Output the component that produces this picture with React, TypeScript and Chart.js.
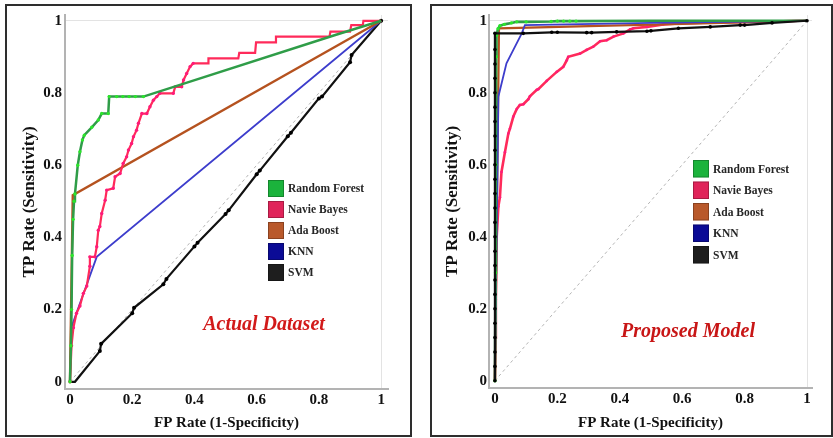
import React, { useEffect, useRef } from 'react';
import { Chart, registerables } from 'chart.js';

Chart.register(...registerables);

type Pt = [number, number];

// ---------- shared labels ----------
const tickValues = [0, 0.2, 0.4, 0.6, 0.8, 1];
const tickLabels = ['0', '0.2', '0.4', '0.6', '0.8', '1'];
const seriesNames = ['Random Forest', 'Navie Bayes', 'Ada Boost', 'KNN', 'SVM'];
const xTitle = 'FP Rate (1-Specificity)';
const yTitle = 'TP Rate (Sensitivity)';
const leftNote = 'Actual Dataset';
const rightNote = 'Proposed Model';

// ---------- Actual Dataset (FP rate, TP rate) ----------
const actualRandomForest: Pt[] = [
  [0, 0], [0.003, 0.1], [0.005, 0.2], [0.007, 0.35], [0.01, 0.45], [0.013, 0.5],
  [0.016, 0.52], [0.025, 0.6], [0.032, 0.637], [0.04, 0.67], [0.046, 0.683],
  [0.07, 0.705], [0.091, 0.725], [0.102, 0.743], [0.123, 0.743], [0.126, 0.79],
  [0.15, 0.79], [0.17, 0.79], [0.19, 0.79], [0.21, 0.79], [0.236, 0.79],
  [0.85, 0.96], [1, 1],
];
const actualNaiveBayes: Pt[] = [
  [0, 0], [0.005, 0.1], [0.011, 0.15], [0.021, 0.19], [0.032, 0.21], [0.043, 0.245],
  [0.054, 0.265], [0.064, 0.32], [0.064, 0.346], [0.08, 0.346], [0.086, 0.374],
  [0.091, 0.42], [0.096, 0.43], [0.102, 0.466], [0.113, 0.503], [0.118, 0.531],
  [0.139, 0.536], [0.145, 0.568], [0.161, 0.577], [0.171, 0.605], [0.182, 0.623],
  [0.188, 0.642], [0.198, 0.66], [0.204, 0.679], [0.214, 0.697], [0.22, 0.716],
  [0.231, 0.743], [0.247, 0.743], [0.257, 0.762], [0.268, 0.78], [0.279, 0.79],
  [0.289, 0.799], [0.332, 0.799], [0.338, 0.817], [0.359, 0.817], [0.365, 0.836],
  [0.375, 0.854], [0.386, 0.873], [0.396, 0.882], [0.445, 0.882], [0.445, 0.896],
  [0.541, 0.896], [0.544, 0.911], [0.595, 0.911], [0.598, 0.94], [0.659, 0.94],
  [0.662, 0.956], [0.834, 0.956], [0.837, 0.97], [0.9, 0.97], [0.904, 0.988],
  [0.941, 0.988], [0.943, 1], [1, 1],
];
const actualAdaBoost: Pt[] = [[0, 0], [0.009, 0.517], [1, 1]];
const actualKnn: Pt[] = [[0, 0], [0.004, 0.15], [0.086, 0.346], [1, 1]];
const actualSvm: Pt[] = [
  [0, 0], [0.016, 0], [0.096, 0.085], [0.1, 0.105], [0.2, 0.19], [0.206, 0.205],
  [0.3, 0.27], [0.31, 0.285], [0.4, 0.375], [0.41, 0.385], [0.5, 0.465],
  [0.51, 0.475], [0.6, 0.575], [0.61, 0.585], [0.7, 0.68], [0.71, 0.69],
  [0.8, 0.785], [0.81, 0.79], [0.9, 0.885], [0.905, 0.905], [1, 1],
];

// ---------- Proposed Model (FP rate, TP rate) ----------
const proposedRandomForest: Pt[] = [
  [0, 0], [0.002, 0.3], [0.003, 0.6], [0.004, 0.9], [0.005, 0.96], [0.01, 0.978],
  [0.016, 0.986], [0.03, 0.99], [0.053, 0.994], [0.07, 0.997], [0.1, 0.997],
  [0.18, 0.998], [0.2, 0.999], [0.22, 0.999], [0.24, 0.999], [0.26, 0.999],
  [0.5, 1], [1, 1],
];
const proposedNaiveBayes: Pt[] = [
  [0, 0], [0.002, 0.12], [0.003, 0.225], [0.005, 0.39], [0.011, 0.484], [0.016, 0.51],
  [0.021, 0.58], [0.032, 0.635], [0.043, 0.687], [0.048, 0.7], [0.059, 0.734],
  [0.07, 0.755], [0.08, 0.766], [0.091, 0.768], [0.107, 0.782], [0.112, 0.79],
  [0.134, 0.808], [0.139, 0.81], [0.166, 0.833], [0.198, 0.858], [0.219, 0.872],
  [0.23, 0.89], [0.235, 0.9], [0.273, 0.909], [0.294, 0.919], [0.315, 0.928],
  [0.337, 0.943], [0.358, 0.946], [0.38, 0.956], [0.412, 0.965], [0.433, 0.976],
  [0.444, 0.979], [0.487, 0.983], [0.54, 0.99], [0.6, 0.993], [0.7, 0.995],
  [0.8, 0.997], [0.9, 0.998], [0.97, 1], [1, 1],
];
const proposedAdaBoost: Pt[] = [[0, 0], [0.013, 0.979], [0.3, 0.985], [0.6, 0.991], [1, 1]];
const proposedKnn: Pt[] = [
  [0, 0], [0.011, 0.789], [0.037, 0.882], [0.059, 0.919], [0.086, 0.965],
  [0.096, 0.988], [0.5, 0.994], [1, 1],
];
const proposedSvm: Pt[] = [
  [0, 0], [0, 0.04], [0, 0.08], [0, 0.12], [0, 0.16], [0, 0.2], [0, 0.24], [0, 0.28],
  [0, 0.32], [0, 0.36], [0, 0.4], [0, 0.44], [0, 0.48], [0, 0.52], [0, 0.56], [0, 0.6],
  [0, 0.64], [0, 0.68], [0, 0.72], [0, 0.76], [0, 0.8], [0, 0.84], [0, 0.88], [0, 0.92],
  [0, 0.965], [0.091, 0.965], [0.182, 0.968], [0.2, 0.968], [0.294, 0.967],
  [0.31, 0.967], [0.39, 0.969], [0.487, 0.971], [0.5, 0.972], [0.588, 0.979],
  [0.69, 0.983], [0.786, 0.988], [0.8, 0.988], [0.888, 0.994], [1, 1],
];

const chanceLine: Pt[] = [[0, 0], [1, 1]];

// ---------- styles ----------
const SERIF = '"Liberation Serif", "Times New Roman", serif';
const legendColors = ['#1bb33c', '#e0245a', '#b9592b', '#0b0b96', '#1e1e1e'];
const lineColors = ['#2f9d48', '#ff2a5a', '#b5521f', '#3d3dcc', '#111111'];
const markerColors = ['#2be62b', '#ff1a7a', '#b5521f', '#3d3dcc', '#000000'];

const toXY = (pts: Pt[]) => pts.map(([x, y]) => ({ x, y }));

const overlayPlugin = {
  id: 'overlay',
  afterDatasetsDraw(chart: any, _args: any, opts: any) {
    const ctx = chart.ctx as CanvasRenderingContext2D;
    ctx.save();
    seriesNames.forEach((name, i) => {
      const top = opts.y + i * opts.step;
      ctx.fillStyle = legendColors[i];
      ctx.fillRect(opts.x, top, opts.w, opts.h);
      ctx.strokeStyle = 'rgba(0,0,0,0.25)';
      ctx.lineWidth = 1;
      ctx.strokeRect(opts.x + 0.5, top + 0.5, opts.w - 1, opts.h - 1);
      ctx.fillStyle = '#262626';
      ctx.font = `bold 11.5px ${SERIF}`;
      ctx.textAlign = 'left';
      ctx.textBaseline = 'middle';
      ctx.fillText(name, opts.x + opts.w + 4, top + opts.h / 2 + 1);
    });
    ctx.font = `italic bold 20px ${SERIF}`;
    ctx.fillStyle = opts.noteColor;
    ctx.textAlign = 'center';
    ctx.textBaseline = 'middle';
    ctx.fillText(opts.note, opts.noteX, opts.noteY);
    ctx.restore();
  },
};

interface PanelCfg {
  series: Pt[][];
  radius: ((x: number) => number)[];
  widths: number[];
  order: number[];
  xMin: number; xMax: number; yMin: number; yMax: number;
  padTop: number; padRight: number; padBottom: number;
  yWidth: number; xHeight: number;
  yTickPad: number; xTickPad: number; yTitlePad: number;
  legend: { x: number; y: number; step: number; w: number; h: number };
  note: string; noteX: number; noteY: number; noteColor: string;
}

function buildChart(canvas: HTMLCanvasElement, cfg: PanelCfg) {
  const datasets: any[] = cfg.series.map((pts, i) => ({
    label: seriesNames[i],
    data: toXY(pts),
    borderColor: lineColors[i],
    borderWidth: cfg.widths[i],
    pointRadius: (c: any) => (c.raw ? cfg.radius[i](c.raw.x) : 0),
    pointBackgroundColor: markerColors[i],
    pointBorderWidth: 0,
    pointHoverRadius: 0,
    tension: 0,
    fill: false,
    order: cfg.order[i],
  }));
  datasets.push({
    label: 'chance',
    data: toXY(chanceLine),
    borderColor: '#b4b4b4',
    borderWidth: 1,
    borderDash: [3, 3],
    pointRadius: 0,
    fill: false,
    order: 10,
  });

  const tickFont = { family: SERIF, size: 15, weight: 'bold' as const };
  const fmt = (v: any) => {
    const i = tickValues.indexOf(Number(v));
    return i >= 0 ? tickLabels[i] : '';
  };
  const gridColor = (c: any) => (c.tick && c.tick.value === 1 ? '#e3e3e3' : 'rgba(0,0,0,0)');

  return new Chart(canvas, {
    type: 'line',
    data: { datasets },
    plugins: [overlayPlugin as any],
    options: {
      animation: false,
      responsive: false,
      events: [],
      layout: { padding: { left: 0, top: cfg.padTop, right: cfg.padRight, bottom: cfg.padBottom } },
      plugins: {
        legend: { display: false },
        tooltip: { enabled: false },
        overlay: {
          ...cfg.legend,
          note: cfg.note, noteX: cfg.noteX, noteY: cfg.noteY, noteColor: cfg.noteColor,
        },
      } as any,
      scales: {
        x: {
          type: 'linear',
          min: cfg.xMin,
          max: cfg.xMax,
          afterBuildTicks: (s: any) => { s.ticks = tickValues.map((v) => ({ value: v })); },
          afterFit: (s: any) => { s.height = cfg.xHeight; },
          ticks: { callback: fmt, font: tickFont, color: '#111', padding: cfg.xTickPad, maxRotation: 0, autoSkip: false },
          grid: { drawTicks: false, color: gridColor, lineWidth: 1 },
          border: { color: '#b3b3b3', width: 2 },
          title: { display: true, text: xTitle, font: { family: SERIF, size: 15, weight: 'bold' }, color: '#111', padding: { top: 0, bottom: 0 } },
        },
        y: {
          type: 'linear',
          min: cfg.yMin,
          max: cfg.yMax,
          afterBuildTicks: (s: any) => { s.ticks = tickValues.map((v) => ({ value: v })); },
          afterFit: (s: any) => { s.width = cfg.yWidth; },
          ticks: { callback: fmt, font: tickFont, color: '#111', padding: cfg.yTickPad, autoSkip: false },
          grid: { drawTicks: false, color: gridColor, lineWidth: 1 },
          border: { color: '#b3b3b3', width: 2 },
          title: { display: true, text: yTitle, font: { family: SERIF, size: 17, weight: 'bold' }, color: '#111', padding: { top: cfg.yTitlePad, bottom: 0 } },
        },
      },
    } as any,
  });
}

const leftCfg: PanelCfg = {
  series: [actualRandomForest, actualNaiveBayes, actualAdaBoost, actualKnn, actualSvm],
  radius: [
    (x) => (x < 0.24 ? 1.7 : 0),
    (x) => (x < 0.4 ? 1.7 : 0),
    () => 0,
    () => 0,
    (x) => (x > 0.05 ? 2 : 0),
  ],
  widths: [2.5, 2.2, 2.4, 1.8, 2.2],
  order: [1, 2, 3, 4, 5],
  xMin: -0.016, xMax: 1.022, yMin: -0.02, yMax: 1.016,
  padTop: 15, padRight: 32, padBottom: 6,
  yWidth: 65, xHeight: 43,
  yTickPad: 3, xTickPad: 2, yTitlePad: 19,
  legend: { x: 268, y: 180, step: 21, w: 16, h: 17 },
  note: leftNote, noteX: 264, noteY: 325, noteColor: '#d21a1a',
};

const rightCfg: PanelCfg = {
  series: [proposedRandomForest, proposedNaiveBayes, proposedAdaBoost, proposedKnn, proposedSvm],
  radius: [
    (x) => (x < 0.3 ? 1.7 : 0),
    (x) => (x < 0.6 ? 1.3 : 0),
    () => 0,
    () => 0,
    () => 1.8,
  ],
  widths: [2.6, 2.6, 2.2, 1.8, 2.2],
  order: [2, 5, 4, 3, 1],
  xMin: -0.019, xMax: 1.016, yMin: -0.02, yMax: 1.016,
  padTop: 15, padRight: 21, padBottom: 6,
  yWidth: 69, xHeight: 44,
  yTickPad: 2, xTickPad: 2, yTitlePad: 22,
  legend: { x: 273, y: 160, step: 21.5, w: 16, h: 17.5 },
  note: rightNote, noteX: 268, noteY: 332, noteColor: '#c81616',
};

function Panel({ cfg, left, width }: { cfg: PanelCfg; left: number; width: number }) {
  const ref = useRef<HTMLCanvasElement>(null);
  useEffect(() => {
    if (!ref.current) return;
    const chart = buildChart(ref.current, cfg);
    return () => chart.destroy();
  }, [cfg]);
  return (
    <canvas
      ref={ref}
      width={width}
      height={438}
      style={{ position: 'absolute', left, top: 0, width, height: 438, zIndex: 2 }}
    />
  );
}

export default function App() {
  return (
    <div style={{ position: 'absolute', left: 0, top: 0, width: 833, height: 438, background: '#fff', overflow: 'hidden' }}>
      <div style={{ position: 'absolute', left: 5, top: 4, width: 407, height: 433, border: '2px solid #2e2e2e', boxSizing: 'border-box', zIndex: 1 }} />
      <div style={{ position: 'absolute', left: 430, top: 4, width: 403, height: 433, border: '2px solid #2e2e2e', boxSizing: 'border-box', zIndex: 1 }} />
      <Panel cfg={leftCfg} left={0} width={420} />
      <Panel cfg={rightCfg} left={420} width={413} />
    </div>
  );
}
